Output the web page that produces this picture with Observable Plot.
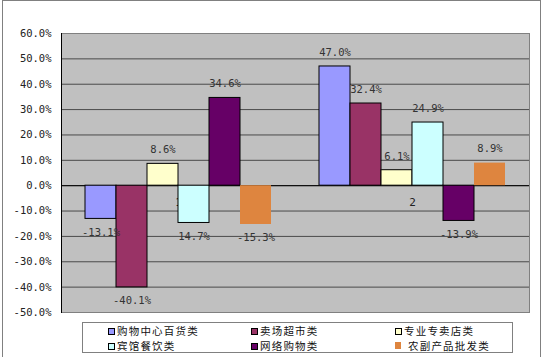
<!DOCTYPE html>
<html>
<head>
<meta charset="utf-8">
<script src="https://cdn.jsdelivr.net/npm/d3@7"></script>
<script src="https://cdn.jsdelivr.net/npm/@observablehq/plot@0.6"></script>
<style>
  html, body { margin: 0; padding: 0; background: #fff; }
  #wrap { position: relative; width: 544px; height: 357px; overflow: hidden; background: #fff; }
  #outer { position: absolute; left: 2px; top: 0; width: 539px; height: 362px; border: 1px solid #808080; box-sizing: border-box; pointer-events: none; }
  #chart { position: absolute; left: 0; top: 0; }
  #legend { position: absolute; left: 82px; top: 322px; width: 431px; height: 31px; border: 1px solid #808080; box-sizing: border-box; background: #fff;
            font-family: "Noto Sans CJK SC", sans-serif; font-size: 10.5px; letter-spacing: 1.2px; color: #111; }
  .item { position: absolute; white-space: nowrap; line-height: 14px; height: 14px; }
  .sw { position: absolute; top: 4px; width: 5px; height: 5px; border: 1px solid #000; }
  .sw.nb { border: none; width: 6px; height: 7px; top: 3px; }
  .lab { position: absolute; left: 9px; top: 0; }
</style>
</head>
<body>
<div id="wrap">
  <div id="chart"></div>
  <div id="legend"></div>
  <div id="outer"></div>
</div>
<script>
const categories = [1, 2];
const series = ["购物中心百货类", "卖场超市类", "专业专卖店类", "宾馆餐饮类", "网络购物类", "农副产品批发类"];
const colors = ["#9999FF", "#993366", "#FFFFCC", "#CCFFFF", "#660066", "#DE853F"];
const values1 = [-13.1, -40.1, 8.6, -14.7, 34.6, -15.3];
const values2 = [47.0, 32.4, 6.1, 24.9, -13.9, 8.9];
const labels1 = ["-13.1%", "-40.1%", "8.6%", "14.7%", "34.6%", "-15.3%"];
const labels2 = ["47.0%", "32.4%", "6.1%", "24.9%", "-13.9%", "8.9%"];
const yTicks = [-50, -40, -30, -20, -10, 0, 10, 20, 30, 40, 50, 60];
const noBorderSeries = ["农副产品批发类"];

const valuesByCat = [values1, values2];
const labelsByCat = [labels1, labels2];
const data = categories.flatMap((c, ci) => series.map((s, si) => ({
  cat: c, series: s, value: valuesByCat[ci][si], label: labelsByCat[ci][si]
})));
const bordered = data.filter(d => !noBorderSeries.includes(d.series));
const unbordered = data.filter(d => noBorderSeries.includes(d.series));

const chart = Plot.plot({
  width: 544,
  height: 357,
  marginLeft: 61,
  marginRight: 15,
  marginTop: 33,
  marginBottom: 45,
  style: { background: "transparent", fontFamily: "DejaVu Sans Mono, monospace", fontSize: "10.5px", color: "#222", overflow: "visible" },
  fx: { domain: categories, padding: 0, axis: null, label: null },
  x: { domain: series, paddingInner: 0, paddingOuter: 0.742, axis: null, label: null },
  y: { domain: [-50, 60], ticks: yTicks, tickFormat: d => d.toFixed(1) + "%", tickSize: 0, tickPadding: 10, label: null },
  color: { domain: series, range: colors },
  marks: [
    Plot.frame({ fill: "#C0C0C0", stroke: "none", shapeRendering: "crispEdges" }),
    Plot.ruleY(yTicks, { stroke: "#4a4a4a" }),
    Plot.ruleY([60, -50], { stroke: "#808080" }),
    Plot.frame({ anchor: "right", facetAnchor: "right", stroke: "#808080" }),
    Plot.frame({ anchor: "left", facetAnchor: "left", stroke: "#000" }),
    Plot.text(categories, { fx: d => d, y: () => 0, text: d => String(d), dy: 17, fill: "#222", fontSize: 11 }),
    Plot.ruleY([0], { stroke: "#000" }),
    Plot.barY(bordered, { fx: "cat", x: "series", y: "value", fill: "series", stroke: "#000", strokeWidth: 1 }),
    Plot.barY(unbordered, { fx: "cat", x: "series", y: "value", fill: "series" }),
    Plot.text(data.filter(d => d.value >= 0), { fx: "cat", x: "series", y: "value", text: "label", dy: -14, fill: "#333" }),
    Plot.text(data.filter(d => d.value < 0), { fx: "cat", x: "series", y: "value", text: "label", dy: 13.5, fill: "#333" })
  ]
});
document.getElementById("chart").appendChild(chart);

// legend
const legend = document.getElementById("legend");
const colX = [25, 168, 312];
const rowY = [1, 16];
series.forEach((s, i) => {
  const item = document.createElement("div");
  item.className = "item";
  item.style.left = colX[i % 3] + "px";
  item.style.top = rowY[Math.floor(i / 3)] + "px";
  const sw = document.createElement("span");
  sw.className = "sw" + (noBorderSeries.includes(s) ? " nb" : "");
  sw.style.background = colors[i];
  const lab = document.createElement("span");
  lab.className = "lab";
  if (noBorderSeries.includes(s)) lab.style.left = "13px";
  lab.textContent = s;
  item.appendChild(sw);
  item.appendChild(lab);
  legend.appendChild(item);
});
</script>
</body>
</html>
